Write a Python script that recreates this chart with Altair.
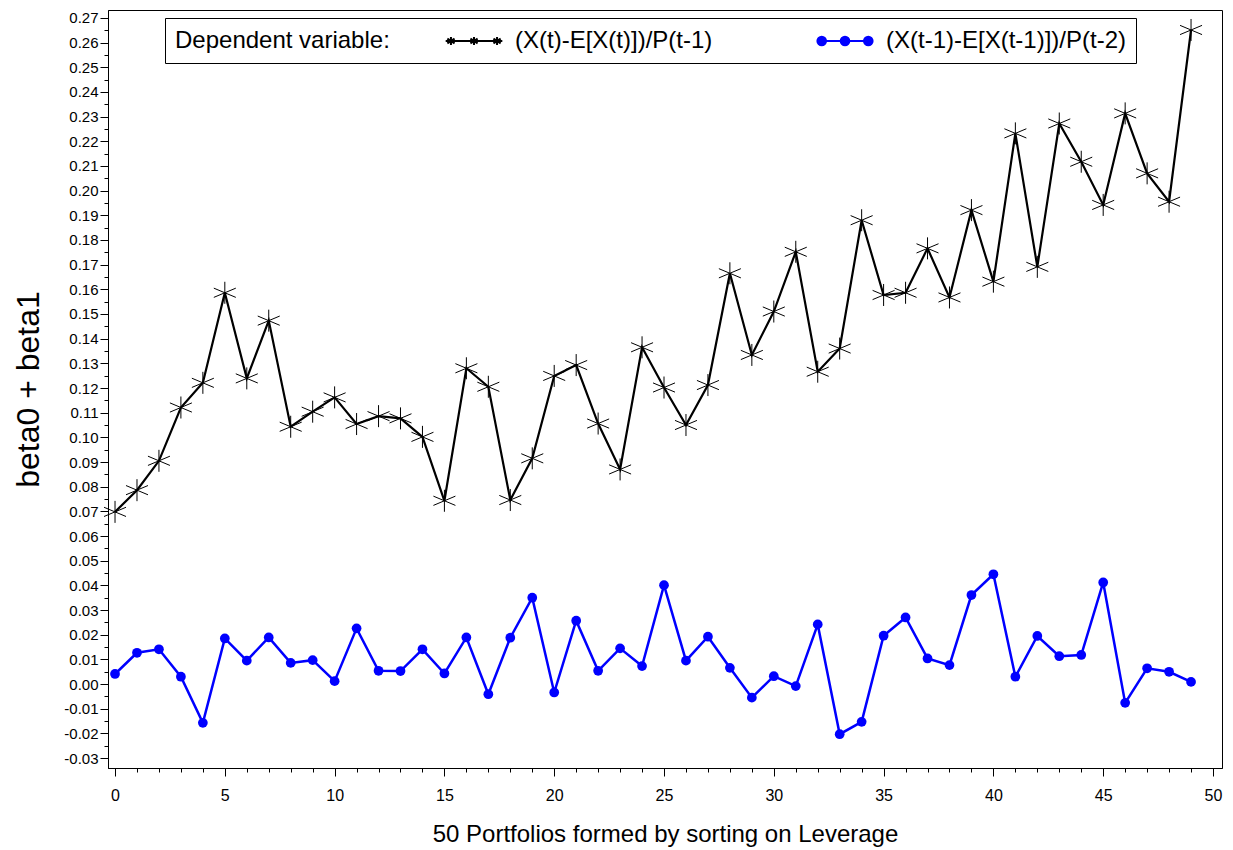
import altair as alt
import pandas as pd

# ---------------- data ----------------
portfolios = list(range(50))
black_vals = [0.0698, 0.0786, 0.0905, 0.1121, 0.1221, 0.1586, 0.1239, 0.1473, 0.1043, 0.1104,
              0.1162, 0.1054, 0.1086, 0.1077, 0.1002, 0.0743, 0.1280, 0.1205, 0.0746, 0.0915,
              0.1249, 0.1293, 0.1056, 0.0870, 0.1365, 0.1202, 0.1050, 0.1212, 0.1665, 0.1334,
              0.1510, 0.1752, 0.1266, 0.1360, 0.1880, 0.1577, 0.1586, 0.1766, 0.1567, 0.1921,
              0.1631, 0.2232, 0.1691, 0.2272, 0.2117, 0.1942, 0.2313, 0.2070, 0.1955, 0.2651]
blue_vals = [0.0041, 0.0127, 0.0141, 0.0030, -0.0157, 0.0185, 0.0095, 0.0189, 0.0086, 0.0097,
             0.0012, 0.0226, 0.0054, 0.0053, 0.0141, 0.0043, 0.0189, -0.0041, 0.0188, 0.0350,
             -0.0034, 0.0257, 0.0054, 0.0145, 0.0073, 0.0401, 0.0095, 0.0192, 0.0066, -0.0055,
             0.0032, -0.0008, 0.0242, -0.0203, -0.0153, 0.0196, 0.0270, 0.0104, 0.0077, 0.0361,
             0.0445, 0.0030, 0.0195, 0.0113, 0.0118, 0.0412, -0.0076, 0.0064, 0.0050, 0.0009]
series_names = ["(X(t)-E[X(t)])/P(t-1)", "(X(t-1)-E[X(t-1)])/P(t-2)"]
series_colors = ["black", "blue"]
x_ticks = list(range(0, 51))
y_ticks = [round(i * 0.005, 3) for i in range(-6, 55)]
x_title = "50 Portfolios formed by sorting on Leverage"
y_title = "beta0 + beta1"
legend_title = "Dependent variable:"

df = pd.DataFrame({
    "x": portfolios + portfolios,
    "y": black_vals + blue_vals,
    "series": [series_names[0]] * len(portfolios) + [series_names[1]] * len(portfolios),
})

FONT = "Liberation Sans"

# ---------------- symbols ----------------
def fmt(v):
    return f"{v:.3f}".rstrip("0").rstrip(".")

def star(cx, a, dx, dy):
    return (f"M{fmt(cx)},{fmt(-a)}L{fmt(cx)},{fmt(a)}"
            f"M{fmt(cx - dx)},{fmt(-dy)}L{fmt(cx + dx)},{fmt(dy)}"
            f"M{fmt(cx - dx)},{fmt(dy)}L{fmt(cx + dx)},{fmt(-dy)}")

def ring(cx, r):
    return (f"M{fmt(cx + r)},0A{fmt(r)},{fmt(r)} 0 1 0 {fmt(cx - r)},0"
            f"A{fmt(r)},{fmt(r)} 0 1 0 {fmt(cx + r)},0")

STAR = "M0,-1L0,1M-1,-0.42L1,0.42M-1,0.42L1,-0.42"
leg_black = "M-2.36,0L2.36,0" + "".join(star(c, 0.34, 0.3, 0.2) for c in (-1.92, 0, 1.92))
leg_blue = "M-2.22,0L2.22,0" + "".join(ring(c, r) for c in (-1.94, 0, 1.94) for r in (0.36, 0.22, 0.08))

# ---------------- encodings ----------------
x_enc = alt.X(
    "x:Q",
    scale=alt.Scale(domain=[-0.32, 50.41], nice=False, zero=False),
    axis=alt.Axis(
        values=x_ticks,
        format="d",
        labelExpr="datum.value % 5 === 0 ? datum.label : ''",
        tickSize={"condition": {"test": "datum.value % 5 === 0", "value": 8}, "value": 4},
        labelPadding=11,
        labelFontSize=16,
        labelFlush=False,
        labelOverlap=False,
        title=x_title,
        titleFontSize=24,
        titleY=66,
        titleBaseline="middle",
    ),
)
y_enc = alt.Y(
    "y:Q",
    scale=alt.Scale(domain=[-0.034, 0.2732], nice=False, zero=False),
    axis=alt.Axis(
        values=y_ticks,
        labelExpr="abs(round(datum.value * 1000)) % 10 === 0 ? replace(format(datum.value, '.2f'), '\u2212', '-') : ''",
        tickSize={"condition": {"test": "abs(round(datum.value * 1000)) % 10 === 0", "value": 8}, "value": 4},
        labelPadding=2,
        labelFontSize=15,
        labelFlush=False,
        labelOverlap=False,
        title=y_title,
        titleFontSize=32,
        titleX=-80,
        titleY=379,
        titleBaseline="middle",
        titleAlign="center",
    ),
)

base = alt.Chart(df)
black = base.transform_filter(alt.datum.series == series_names[0])
blue = base.transform_filter(alt.datum.series == series_names[1])

black_line = black.mark_line(color="black", strokeWidth=2.2).encode(x=x_enc, y=y_enc)
blue_line = blue.mark_line(color="blue", strokeWidth=2.5).encode(x=x_enc, y=y_enc)
black_pts = black.mark_point(shape=STAR, size=484, color="black", strokeWidth=1,
                             filled=False, opacity=1).encode(x=x_enc, y=y_enc)
blue_pts = blue.mark_circle(size=95, color="blue", opacity=1).encode(x=x_enc, y=y_enc)

leg = alt.Legend(
    orient="none", legendX=57, legendY=8, direction="horizontal",
    title=legend_title, titleOrient="left", titleFont=FONT, titleFontSize=24,
    titleFontWeight="normal", titleColor="black", titlePadding=71, titleLimit=400,
    labelFont=FONT, labelFontSize=24, labelColor="black", labelLimit=500, labelOffset=28,
    symbolSize=576, symbolStrokeWidth=2, columnPadding=100,
    padding=10, strokeColor="black", fillColor="white",
)
legend_layer = base.transform_filter("false").mark_point(
    filled=False, size=576, strokeWidth=2, opacity=1
).encode(
    x=x_enc, y=y_enc,
    color=alt.Color("series:N", scale=alt.Scale(domain=series_names, range=series_colors), legend=leg),
    shape=alt.Shape("series:N", scale=alt.Scale(domain=series_names, range=[leg_black, leg_blue]), legend=leg),
)

chart = alt.layer(black_line, blue_line, black_pts, blue_pts, legend_layer).properties(
    width=1114, height=758,
    autosize=alt.AutoSizeParams(type="none"),
    padding={"left": 100, "top": 2, "right": 1, "bottom": 82},
    background="white",
).configure_view(
    stroke="black", strokeWidth=1
).configure_axis(
    labelFont=FONT, titleFont=FONT, labelColor="black", titleColor="black",
    tickColor="black", domainColor="black", grid=False, titleFontWeight="normal",
    tickWidth=1, domainWidth=1,
)

chart.save("out.html", embed_options={"renderer": "svg", "actions": False})
